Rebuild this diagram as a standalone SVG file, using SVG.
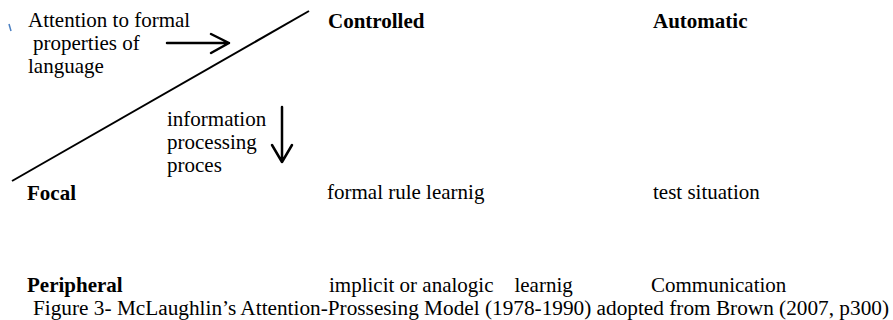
<svg xmlns="http://www.w3.org/2000/svg" width="893" height="320" viewBox="0 0 893 320">
<style>
text{font-family:"Liberation Serif","Times New Roman",Times,serif;font-size:21px;fill:#000}
.b{font-weight:bold}
.cap{font-size:20px}
.ln{stroke:#000;stroke-width:2;fill:none}
.ar{stroke:#000;stroke-width:2.5;fill:none;stroke-linecap:round;stroke-linejoin:round}
</style>
<rect width="893" height="320" fill="#fff"/>
<g id="connectors">
<line class="ln" x1="12" y1="181" x2="309" y2="11"/>
<path class="ar" d="M167 43 H229 M211 34 L229 43 L211 53"/>
<path class="ar" d="M282 107 V162 M272 145 L282 162 L292 145"/>
</g>
<g id="tick"><line x1="9" y1="24" x2="11" y2="31" stroke="#4a7fc1" stroke-width="1.5"/></g>
<g id="attention">
<text x="28" y="27">Attention to formal</text>
<text x="33" y="50">properties of</text>
<text x="28" y="73">language</text>
</g>
<g id="processing">
<text x="167" y="126">information</text>
<text x="167" y="149">processing</text>
<text x="167" y="172">proces</text>
</g>
<g id="controlled"><text class="b" x="328" y="28">Controlled</text></g>
<g id="automatic"><text class="b" x="653" y="28">Automatic</text></g>
<g id="focal"><text class="b" x="27" y="200">Focal</text></g>
<g id="formal"><text x="327" y="199">formal rule learnig</text></g>
<g id="test"><text x="653" y="199">test situation</text></g>
<g id="peripheral"><text class="b" x="27" y="292">Peripheral</text></g>
<g id="implicit"><text x="329" y="292" xml:space="preserve">implicit or analogic    learnig</text></g>
<g id="communication"><text x="651" y="292">Communication</text></g>
<g id="caption"><text class="cap" x="33" y="315" textLength="856" lengthAdjust="spacingAndGlyphs">Figure 3- McLaughlin’s Attention-Prossesing Model (1978-1990) adopted from Brown (2007, p300)</text></g>
</svg>
